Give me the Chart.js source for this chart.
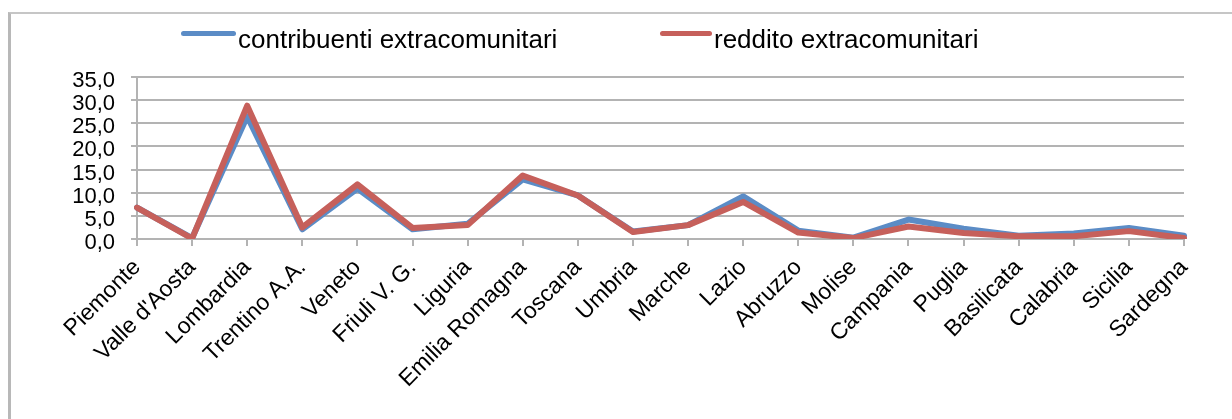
<!DOCTYPE html>
<html>
<head>
<meta charset="utf-8">
<script src="https://cdn.jsdelivr.net/npm/chart.js@4"></script>
<style>
  html, body { margin: 0; padding: 0; background: #fff; }
  #wrap { position: relative; width: 1232px; height: 419px; overflow: hidden; font-family: 'Liberation Sans', Arial, sans-serif; }
  #frame { position: absolute; left: 8px; top: 12px; width: 1240px; height: 420px; border-top: 2px solid #c6c6c6; border-left: 3px solid #b8b8b8; box-sizing: border-box; }
  #chartBox { position: absolute; left: 0; top: 0; width: 1232px; height: 419px; }
  .lg-line { position: absolute; height: 5px; border-radius: 3px; }
  .lg-text { position: absolute; font-size: 26px; line-height: 30px; color: #000; white-space: nowrap; }
</style>
</head>
<body>
<div id="wrap">
  <div id="frame"></div>
  <div id="chartBox"><canvas id="c"></canvas></div>
  <div class="lg-line" style="left:181px; top:31px; width:55px; background:#5B8CC6;"></div>
  <div class="lg-text" id="lg1" style="left:238px; top:24px;"></div>
  <div class="lg-line" style="left:660px; top:31px; width:52px; background:#C6605B;"></div>
  <div class="lg-text" id="lg2" style="left:714px; top:24px;"></div>
</div>
<script>
const categories = ["Piemonte", "Valle d'Aosta", "Lombardia", "Trentino A.A.", "Veneto", "Friuli V. G.", "Liguria", "Emilia Romagna", "Toscana", "Umbria", "Marche", "Lazio", "Abruzzo", "Molise", "Campania", "Puglia", "Basilicata", "Calabria", "Sicilia", "Sardegna"];
const seriesNames = ["contribuenti extracomunitari", "reddito extracomunitari"];
const contribuenti = [6.8, 0.2, 26.5, 2.1, 10.9, 2.1, 3.3, 12.9, 9.4, 1.6, 3.0, 9.2, 1.8, 0.3, 4.2, 2.2, 0.7, 1.2, 2.4, 0.7];
const reddito = [6.8, 0.1, 28.8, 2.5, 11.8, 2.4, 3.0, 13.7, 9.4, 1.5, 3.0, 8.0, 1.4, 0.2, 2.7, 1.3, 0.6, 0.6, 1.7, 0.2];
const yTicks = [0, 5, 10, 15, 20, 25, 30, 35];

document.getElementById('lg1').textContent = seriesNames[0];
document.getElementById('lg2').textContent = seriesNames[1];

const GRID = '#b3b3b3';
Chart.defaults.font.family = "'Liberation Sans', Arial, sans-serif";
Chart.defaults.color = '#000';

new Chart(document.getElementById('c'), {
  type: 'line',
  data: {
    labels: categories,
    datasets: [
      { label: seriesNames[0], data: contribuenti, borderColor: '#5B8CC6', backgroundColor: '#5B8CC6', borderWidth: 6, pointRadius: 0, tension: 0, borderJoinStyle: 'round', borderCapStyle: 'round', order: 1 },
      { label: seriesNames[1], data: reddito, borderColor: '#C6605B', backgroundColor: '#C6605B', borderWidth: 6, pointRadius: 0, tension: 0, borderJoinStyle: 'round', borderCapStyle: 'round', order: 0 }
    ]
  },
  options: {
    responsive: true,
    maintainAspectRatio: false,
    animation: false,
    layout: { padding: { top: 77, right: 48, left: 0, bottom: 0 } },
    plugins: { legend: { display: false }, tooltip: { enabled: false } },
    scales: {
      x: {
        type: 'category',
        offset: false,
        grid: { drawOnChartArea: false, drawTicks: true, tickLength: 7, color: GRID, lineWidth: 2 },
        border: { color: GRID, width: 2 },
        ticks: { autoSkip: false, minRotation: 45, maxRotation: 45, padding: 8, font: { size: 23 }, color: '#000' },
        afterFit: (s) => { s.height = 180; }
      },
      y: {
        min: 0, max: 35,
        afterBuildTicks: (s) => { s.ticks = yTicks.map(v => ({ value: v })); },
        grid: { color: GRID, lineWidth: 2, tickLength: 6, drawTicks: true },
        border: { color: GRID, width: 2 },
        ticks: { autoSkip: false, padding: 16, labelOffset: 4, font: { size: 22 }, color: '#000', callback: (v) => v.toFixed(1).replace('.', ',') },
        afterFit: (s) => { s.width = 137; }
      }
    }
  }
});
</script>
</body>
</html>
